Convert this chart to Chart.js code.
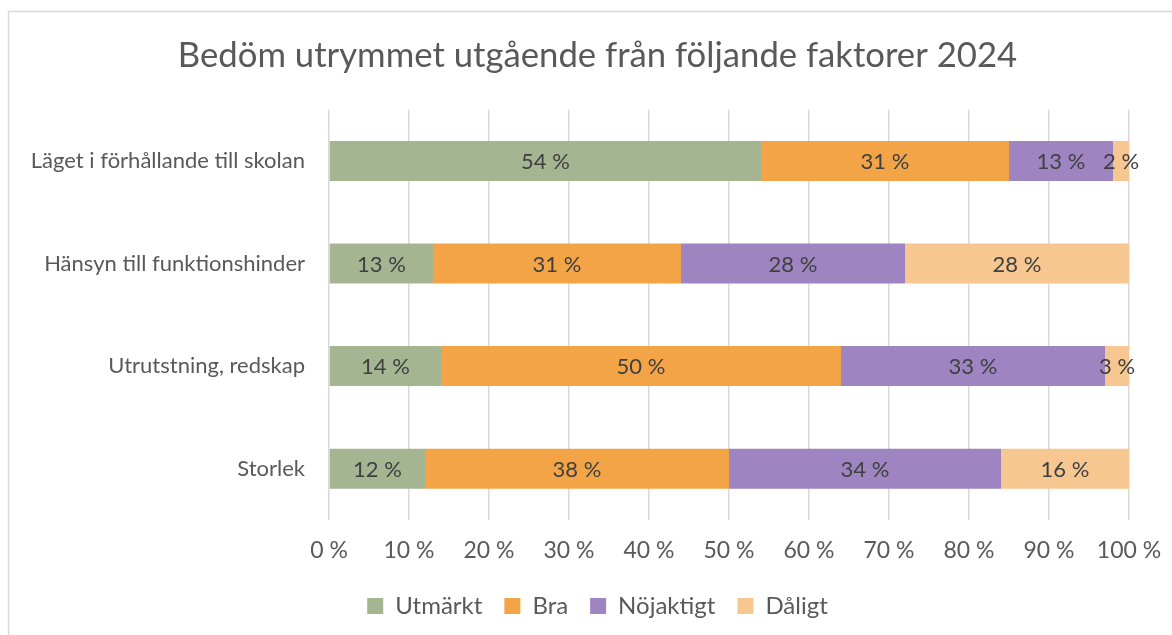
<!DOCTYPE html>
<html>
<head>
<meta charset="utf-8">
<script src="https://cdn.jsdelivr.net/npm/chart.js@4"></script>
<style>
  html, body { margin: 0; padding: 0; background: #fff; overflow: hidden; }
  #wrap { position: relative; width: 1172px; height: 635px; }
</style>
</head>
<body>
<div id="wrap"><canvas id="myChart" width="1172" height="635"></canvas></div>
<script>
// categories and the share (%) of answers per rating
var categories = ['Läget i förhållande till skolan', 'Hänsyn till funktionshinder', 'Utrutstning, redskap', 'Storlek'];
var utmarkt = [54, 13, 14, 12];
var bra = [31, 31, 50, 38];
var nojaktigt = [13, 28, 33, 34];
var daligt = [2, 28, 3, 16];
var xTicks = [0, 10, 20, 30, 40, 50, 60, 70, 80, 90, 100];

Chart.defaults.font.family = 'Lato';
Chart.defaults.color = '#595959';
Chart.defaults.animation = false;

// thin grey frame around the chart
var frame = {
    id: 'frame',
    beforeDraw: function (chart) {
        var c = chart.ctx;
        c.save();
        c.strokeStyle = '#d9d9d9';
        c.lineWidth = 1.5;
        c.beginPath();
        c.moveTo(8.5, chart.height + 5);
        c.lineTo(8.5, 11.5);
        c.lineTo(chart.width + 5, 11.5);
        c.stroke();
        c.restore();
    }
};

// value labels in the middle of each segment
var segmentLabels = {
    id: 'segmentLabels',
    afterDatasetsDraw: function (chart) {
        var c = chart.ctx;
        c.save();
        c.font = '22px Lato';
        c.fillStyle = '#404040';
        c.textAlign = 'center';
        c.textBaseline = 'middle';
        chart.data.datasets.forEach(function (ds, i) {
            chart.getDatasetMeta(i).data.forEach(function (bar, j) {
                c.fillText(ds.data[j] + ' %', (bar.x + bar.base) / 2, bar.y + 1);
            });
        });
        c.restore();
    }
};

var ctx = document.getElementById('myChart').getContext('2d');
var chart = new Chart(ctx, {
    type: 'bar',
    data: {
        labels: categories,
        datasets: [
            { label: 'Utmärkt', data: utmarkt, backgroundColor: '#a5b592' },
            { label: 'Bra', data: bra, backgroundColor: '#f3a447' },
            { label: 'Nöjaktigt', data: nojaktigt, backgroundColor: '#9e84c0' },
            { label: 'Dåligt', data: daligt, backgroundColor: '#f7c791' }
        ]
    },
    options: {
        indexAxis: 'y',
        responsive: false,
        layout: { padding: { left: 66, right: 43, top: 0, bottom: 7 } },
        categoryPercentage: 1,
        barPercentage: 0.39,
        scales: {
            x: {
                stacked: true,
                min: 0,
                max: 100,
                afterBuildTicks: function (scale) {
                    scale.ticks = xTicks.map(function (v) { return { value: v }; });
                },
                afterFit: function (scale) {
                    scale.height = 52;
                    scale.paddingLeft = 0;
                    scale.paddingRight = 0;
                },
                ticks: {
                    padding: 17,
                    font: { size: 23 },
                    callback: function (v) { return v + ' %'; }
                },
                grid: { color: '#d9d9d9', lineWidth: 1.5, drawTicks: false },
                border: { display: false }
            },
            y: {
                stacked: true,
                afterFit: function (scale) {
                    scale.width = 263;
                    // long category names reach past the axis box, so don't clip them
                    scale._computeLabelArea = function () { return undefined; };
                },
                ticks: { padding: 24, font: { size: 22 }, color: '#595959' },
                grid: { display: false, drawTicks: false },
                border: { display: false }
            }
        },
        plugins: {
            title: {
                display: true,
                text: 'Bedöm utrymmet utgående från följande faktorer 2024',
                font: { size: 34.7, weight: 'normal' },
                color: '#595959',
                padding: { top: 35, bottom: 33 }
            },
            legend: {
                position: 'bottom',
                labels: { boxWidth: 16, boxHeight: 16, padding: 22, font: { size: 24 }, color: '#595959' }
            },
            tooltip: { enabled: false }
        }
    },
    plugins: [frame, segmentLabels]
});
</script>
</body>
</html>
